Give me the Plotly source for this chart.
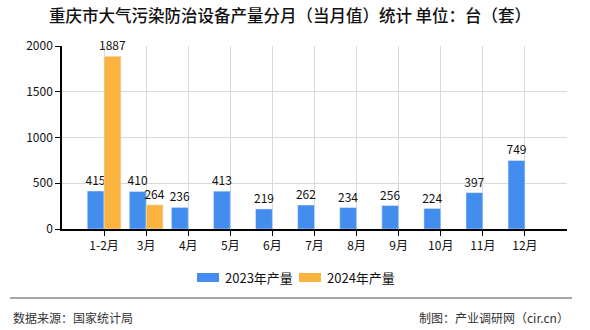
import plotly.graph_objects as go

categories = ["1-2月", "3月", "4月", "5月", "6月", "7月", "8月", "9月", "10月", "11月", "12月"]
values_2023 = [415, 410, 236, 413, 219, 262, 234, 256, 224, 397, 749]
values_2024 = [1887, 264, None, None, None, None, None, None, None, None, None]
series_names = ["2023年产量", "2024年产量"]
series_colors = ["#438DEE", "#FBB340"]
yticks = [0, 500, 1000, 1500, 2000]

FONT = "Noto Sans CJK SC"
xpos = list(range(len(categories)))

# plot area in pixels
L, R, T, B = 62, 567, 46, 229
PW, PH = R - L, B - T


def px(x):
    return (x - L) / PW


def py(y):
    return (B - y) / PH


fig = go.Figure()
for vals, name, col in zip([values_2023, values_2024], series_names, series_colors):
    fig.add_trace(go.Bar(
        x=xpos, y=vals, name=name, marker_color=col,
        text=[str(v) if v is not None else "" for v in vals], textposition="outside",
        textfont=dict(size=12, color="#111", family=FONT), cliponaxis=False,
        constraintext="none", showlegend=False,
    ))

fig.update_layout(
    width=590, height=330,
    margin=dict(l=L, r=590 - R, t=T, b=330 - B),
    paper_bgcolor="white", plot_bgcolor="white",
    barmode="group", bargap=0.2, bargroupgap=0,
    font=dict(family=FONT, size=12, color="#111"),
    title=dict(text="重庆市大气污染防治设备产量分月（当月值）统计 单位：台（套）",
               x=290 / 590, xanchor="center", y=1 - 16 / 330, yanchor="middle",
               font=dict(size=16.5, color="#111", family=FONT, weight=500)),
    showlegend=False,
)
fig.update_xaxes(
    range=[-1, 11], tickmode="array", tickvals=xpos, ticktext=categories,
    showgrid=True, gridcolor="#d9d9d9", gridwidth=1,
    showline=True, linecolor="#000", linewidth=1.5,
    ticks="outside", ticklen=5, tickcolor="#000",
    tickfont=dict(size=12, family=FONT), zeroline=False,
)
fig.update_yaxes(
    range=[0, 2000], tickmode="array", tickvals=yticks,
    showgrid=True, gridcolor="#d9d9d9", gridwidth=1,
    showline=True, linecolor="#000", linewidth=1.5,
    ticks="outside", ticklen=5, tickcolor="#000",
    tickfont=dict(size=12, family=FONT), zeroline=False,
)

# manual legend (wide rectangles)
legend_items = [(197, 219, 223), (299, 321, 325)]
for (x0, x1, tx), name, col in zip(legend_items, series_names, series_colors):
    fig.add_shape(type="rect", xref="paper", yref="paper",
                  x0=px(x0), x1=px(x1), y0=py(282), y1=py(273),
                  fillcolor=col, line=dict(width=0))
    fig.add_annotation(text=name, xref="paper", yref="paper",
                       x=px(tx), y=py(277.5), xanchor="left", yanchor="middle",
                       showarrow=False, font=dict(size=13, color="#111", family=FONT))

# separator line and footer
fig.add_shape(type="line", xref="paper", yref="paper",
              x0=px(10), x1=px(572), y0=py(298), y1=py(298),
              line=dict(color="#888", width=1.5))
fig.add_annotation(text="数据来源：国家统计局", xref="paper", yref="paper",
                   x=px(11), y=py(317), xanchor="left", yanchor="middle",
                   showarrow=False, font=dict(size=12, color="#333", family=FONT))
fig.add_annotation(text="制图：产业调研网（cir.cn）", xref="paper", yref="paper",
                   x=px(571), y=py(317), xanchor="right", yanchor="middle",
                   showarrow=False, font=dict(size=12, color="#333", family=FONT))

fig.write_html("out.html")
